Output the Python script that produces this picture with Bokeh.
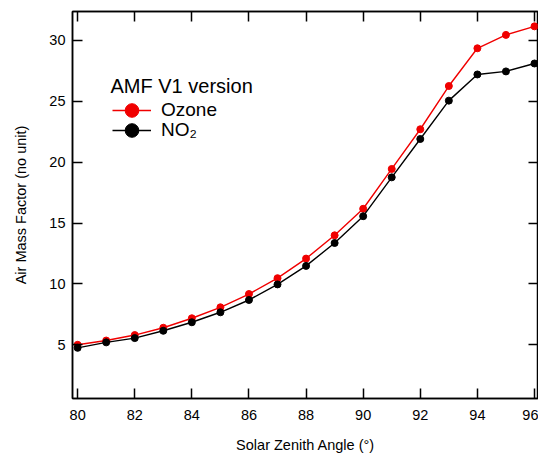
from bokeh.plotting import figure
from bokeh.models import Range1d, LinearAxis, Legend, LegendItem, FixedTicker, Label
from bokeh.embed import file_html
from bokeh.resources import INLINE

sza = [80, 81, 82, 83, 84, 85, 86, 87, 88, 89, 90, 91, 92, 93, 94, 95, 96]
ozone = [5.0, 5.35, 5.8, 6.4, 7.18, 8.08, 9.17, 10.47, 12.08, 13.99, 16.17, 19.44, 22.7, 26.25, 29.35, 30.45, 31.15]
no2 = [4.75, 5.2, 5.55, 6.15, 6.85, 7.67, 8.68, 9.96, 11.48, 13.36, 15.56, 18.75, 21.9, 25.05, 27.2, 27.45, 28.1]
x_ticks = [80, 82, 84, 86, 88, 90, 92, 94, 96]
y_ticks = [5, 10, 15, 20, 25, 30]
legend_title = "AMF V1 version"
series_names = ["Ozone", "NO₂"]

FONT = "Liberation Sans"
RED = "#f00000"
BLACK = "#000000"

p = figure(width=538, height=455, output_backend="svg", toolbar_location=None,
           x_range=Range1d(79.82, 96.14), y_range=Range1d(0.59, 32.37),
           min_border_left=72, min_border_right=0, min_border_top=11, min_border_bottom=55,
           x_axis_label="Solar Zenith Angle (°)", y_axis_label="Air Mass Factor (no unit)")
p.grid.visible = False
p.outline_line_color = "black"
p.outline_line_width = 1.5
p.background_fill_color = "white"
p.border_fill_color = "white"


def style_axis(ax, ticks, labels=True):
    ax.ticker = FixedTicker(ticks=ticks)
    ax.minor_tick_line_color = None
    ax.major_tick_in = 10
    ax.major_tick_out = 0
    ax.major_tick_line_width = 1.5
    ax.major_tick_line_color = "black"
    ax.axis_line_width = 1.5
    ax.axis_line_color = "black"
    if labels:
        ax.major_label_text_font = FONT
        ax.major_label_text_font_size = "14.5px"
        ax.major_label_text_color = "black"
        ax.axis_label_text_font = FONT
        ax.axis_label_text_font_size = "14.5px"
        ax.axis_label_text_font_style = "normal"
        ax.axis_label_text_color = "black"
    else:
        ax.major_label_text_font_size = "0px"
        ax.major_label_text_color = None
        ax.major_label_standoff = 0


style_axis(p.xaxis[0], x_ticks)
p.xaxis[0].major_label_standoff = 11
p.xaxis[0].axis_label_standoff = 14
style_axis(p.yaxis[0], y_ticks)
p.yaxis[0].major_label_standoff = 7
p.yaxis[0].axis_label_standoff = 17

top_axis = LinearAxis()
style_axis(top_axis, x_ticks, labels=False)
p.add_layout(top_axis, "above")
right_axis = LinearAxis()
style_axis(right_axis, y_ticks, labels=False)
p.add_layout(right_axis, "right")

oz_line = p.line(sza, ozone, line_color=RED, line_width=1.4)
oz_pts = p.scatter(sza, ozone, size=7, fill_color=RED, line_color=RED)
no2_line = p.line(sza, no2, line_color=BLACK, line_width=1.4)
no2_pts = p.scatter(sza, no2, size=7, fill_color=BLACK, line_color=BLACK)

common = dict(
    label_text_font=FONT, label_text_font_size="19px", label_text_color="black",
    glyph_width=39, glyph_height=34, label_standoff=10, spacing=0,
    padding=0, margin=0, border_line_color=None, background_fill_alpha=0,
)
legend_oz = Legend(items=[LegendItem(label=series_names[0], renderers=[oz_line, oz_pts])],
                   location=(40, 271), **common)
legend_no2 = Legend(items=[LegendItem(label=series_names[1], renderers=[no2_line, no2_pts])],
                    location=(40, 251), **common)
p.add_layout(legend_oz)
p.add_layout(legend_no2)

title = Label(x=38, y=313, x_units="screen", y_units="screen", text=legend_title,
              text_font=FONT, text_font_size="20px", text_color="black",
              text_baseline="alphabetic", text_align="left")
p.add_layout(title)

open("out.html", "w").write(file_html(p, INLINE))
